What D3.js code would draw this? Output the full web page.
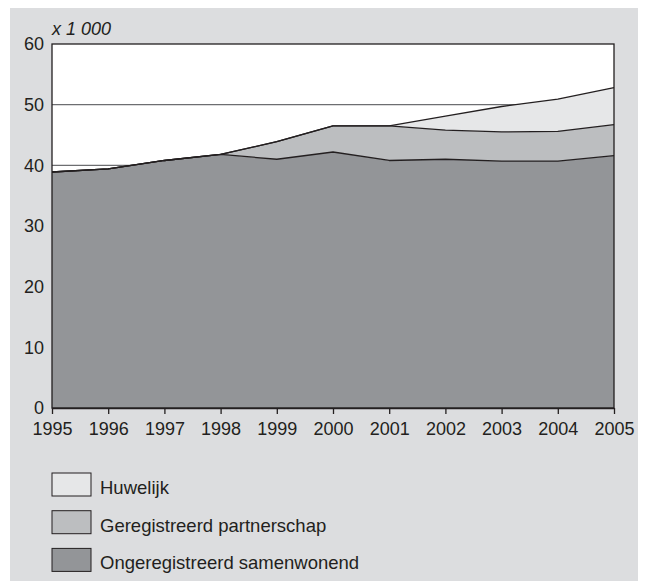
<!DOCTYPE html>
<html>
<head>
<meta charset="utf-8">
<script src="https://cdn.jsdelivr.net/npm/d3@7"></script>
<style>
  body { margin: 0; background: #fff; }
  text { font-family: "Liberation Sans", Arial, sans-serif; fill: #231f20; }
</style>
</head>
<body>
<svg id="chart"></svg>
<script>
// data (x 1 000)
var years = [1995, 1996, 1997, 1998, 1999, 2000, 2001, 2002, 2003, 2004, 2005];
var ongeregistreerd = [38.9, 39.4, 40.8, 41.8, 41.0, 42.2, 40.8, 41.0, 40.7, 40.7, 41.6];
var partnerschap = [0, 0, 0, 0, 2.9, 4.3, 5.7, 4.8, 4.8, 4.9, 5.1];
var huwelijk = [0, 0, 0, 0, 0, 0, 0, 2.3, 4.2, 5.3, 6.1];
var yTicks = [0, 10, 20, 30, 40, 50, 60];
var legendLabels = ["Huwelijk", "Geregistreerd partnerschap", "Ongeregistreerd samenwonend"];

var W = 646, H = 581;
var svg = d3.select("#chart").attr("width", W).attr("height", H);

// grey panel
svg.append("rect")
    .attr("x", 10).attr("y", 8)
    .attr("width", 628).attr("height", H - 8)
    .attr("fill", "#dcdddf");

var mLeft = 52, mRight = 614, mTop = 44, mBottom = 408;

var x = d3.scaleLinear().domain([1995, 2005]).range([mLeft, mRight]);
var y = d3.scaleLinear().domain([0, 60]).range([mBottom, mTop]);

var table = years.map(function (yr, i) {
    return { year: yr, ong: ongeregistreerd[i], par: partnerschap[i], huw: huwelijk[i] };
});
var keys = ["ong", "par", "huw"];
var colors = { ong: "#939598", par: "#bcbec0", huw: "#e6e7e8" };
var series = d3.stack().keys(keys)(table);

// plot background
svg.append("rect")
    .attr("x", mLeft).attr("y", mTop)
    .attr("width", mRight - mLeft).attr("height", mBottom - mTop)
    .attr("fill", "#fff");

// gridlines
svg.append("g").selectAll("line")
    .data(yTicks.filter(function (d) { return d > 0 && d < 60; }))
    .enter().append("line")
    .attr("x1", mLeft).attr("x2", mRight)
    .attr("y1", function (d) { return y(d); })
    .attr("y2", function (d) { return y(d); })
    .attr("stroke", "#6d6e71")
    .attr("stroke-width", 1.2);

var area = d3.area()
    .x(function (d) { return x(d.data.year); })
    .y0(function (d) { return y(d[0]); })
    .y1(function (d) { return y(d[1]); });

var line = d3.line()
    .x(function (d) { return x(d.data.year); })
    .y(function (d) { return y(d[1]); });

svg.append("g").selectAll("path")
    .data(series)
    .enter().append("path")
    .attr("d", area)
    .attr("fill", function (d) { return colors[d.key]; });

svg.append("g").selectAll("path")
    .data(series)
    .enter().append("path")
    .attr("d", line)
    .attr("fill", "none")
    .attr("stroke", "#231f20")
    .attr("stroke-width", 1.3)
    .attr("stroke-linejoin", "round");

// frame
svg.append("rect")
    .attr("x", mLeft).attr("y", mTop)
    .attr("width", mRight - mLeft).attr("height", mBottom - mTop)
    .attr("fill", "none")
    .attr("stroke", "#231f20")
    .attr("stroke-width", 1.3);

// axes
var xAxis = svg.append("g")
    .attr("transform", "translate(0," + mBottom + ")")
    .call(d3.axisBottom(x).tickValues(years).tickFormat(d3.format("d")).tickSize(6).tickSizeOuter(0).tickPadding(8));
xAxis.selectAll("line, path").attr("stroke", "#231f20").attr("stroke-width", 1.3);
xAxis.selectAll("text").attr("font-size", 18).style("font-family", null);

var yAxis = svg.append("g")
    .attr("transform", "translate(" + mLeft + ",0)")
    .call(d3.axisLeft(y).tickValues(yTicks).tickSize(0).tickPadding(8));
yAxis.select(".domain").remove();
yAxis.selectAll("text").attr("font-size", 18).style("font-family", null);

svg.append("text")
    .attr("x", mLeft).attr("y", 35)
    .attr("font-size", 18)
    .attr("font-style", "italic")
    .text("x 1 000");

// legend
var legendKeys = ["huw", "par", "ong"];
var lg = svg.append("g").selectAll("g")
    .data(legendKeys)
    .enter().append("g")
    .attr("transform", function (d, i) { return "translate(52," + (473 + i * 37.7) + ")"; });
lg.append("rect")
    .attr("width", 39).attr("height", 23)
    .attr("fill", function (d) { return colors[d]; })
    .attr("stroke", "#231f20")
    .attr("stroke-width", 1);
lg.append("text")
    .attr("x", 48).attr("y", 21)
    .attr("font-size", 18.5)
    .text(function (d, i) { return legendLabels[i]; });
</script>
</body>
</html>
